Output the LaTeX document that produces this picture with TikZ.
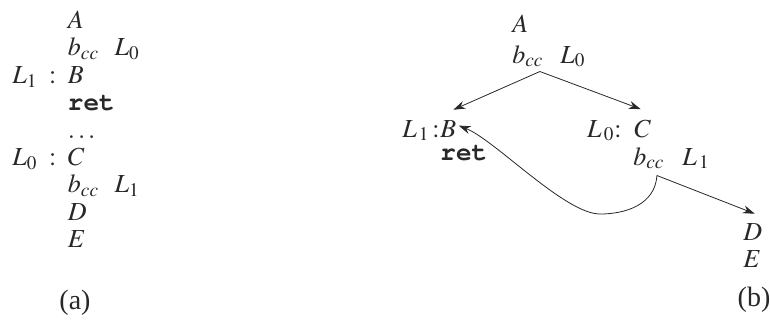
\documentclass[tikz,border=0pt]{standalone}
\usepackage{mathptmx}
\usepackage[no-math]{fontspec}
\setmainfont{Liberation Serif}
\usepackage{tikz}
\usetikzlibrary{arrows.meta,calc}
\definecolor{inkgray}{RGB}{40,40,40}
\newcommand{\kw}[1]{{\fontencoding{OT1}\fontfamily{pcr}\bfseries\selectfont #1}}

\tikzset{
  lbl/.style={inner sep=0pt,anchor=base west,text=inkgray,
    font=\fontsize{13}{13.7}\selectfont},
  caplbl/.style={inner sep=0pt,text=inkgray,font=\fontsize{14}{16}\selectfont},
  flow/.style={draw=inkgray,thin,-{Stealth[length=6pt,width=4pt]}},
}

\begin{document}
\begin{tikzpicture}[x=0.5pt,y=-0.5pt]
\useasboundingbox (0,0) rectangle (770,322);

% (a) straight-line code
\node[lbl,anchor=north west] (listing) at (12,9) {%
  \begin{tabular}{@{}r@{\hspace{0.45em}}l@{}}
           & $A$ \\
           & $b_{cc}\hspace{0.6em}L_0$ \\
  $L_1\;:$ & $B$ \\
           & \kw{ret} \\
           & $\ldots$ \\
  $L_0\;:$ & $C$ \\
           & $b_{cc}\hspace{0.6em}L_1$ \\
           & $D$ \\
           & $E$
  \end{tabular}};
\node[caplbl] (capA) at (75,303) {(a)};

% (b) blocks
\node[lbl] (topA) at (512,32) {$A$};
\node[lbl] (topbcc) at (512,63) {$b_{cc}$};
\node[lbl] (toptgt) at (560,63) {$L_0$};

\node[lbl] (blkB) at (440,137) {$B$};
\node[lbl,anchor=base east] (labB) at (blkB.base west) {$L_{\,1}\,{:}$};
\node[lbl] (retB) at (440,160) {\kw{ret}};

\node[lbl] (blkC) at (634,137) {$C$};
\node[lbl,anchor=base east] (labC) at (622,137) {$L_{\,0}{:}$};
\node[lbl] (bccC) at (633,165) {$b_{cc}$};
\node[lbl] (tgtC) at (682,165) {$L_{\,1}$};

\node[lbl] (blkD) at (743,240) {$D$};
\node[lbl] (blkE) at (743,267) {$E$};
\node[caplbl] (capB) at (754,300) {(b)};

% edges
\coordinate (fork) at ([shift={(8,6)}]bccC.south);
\coordinate (dip) at (600,214);
\draw[flow] ([shift={(-4,4)}]topbcc.south east) -- ([shift={(5,-10)}]blkB.north);
\draw[flow] ([shift={(-4,4)}]topbcc.south east) -- ([shift={(-2,-10)}]blkC.north);
\draw[flow] (fork) -- ([shift={(2,-9)}]blkD.north);
\draw[flow] (fork) .. controls (655,205) and (625,214) .. (dip)
  .. controls (565,214) and (495,140) .. ([shift={(2,-3)}]blkB.east);
\end{tikzpicture}
\end{document}
